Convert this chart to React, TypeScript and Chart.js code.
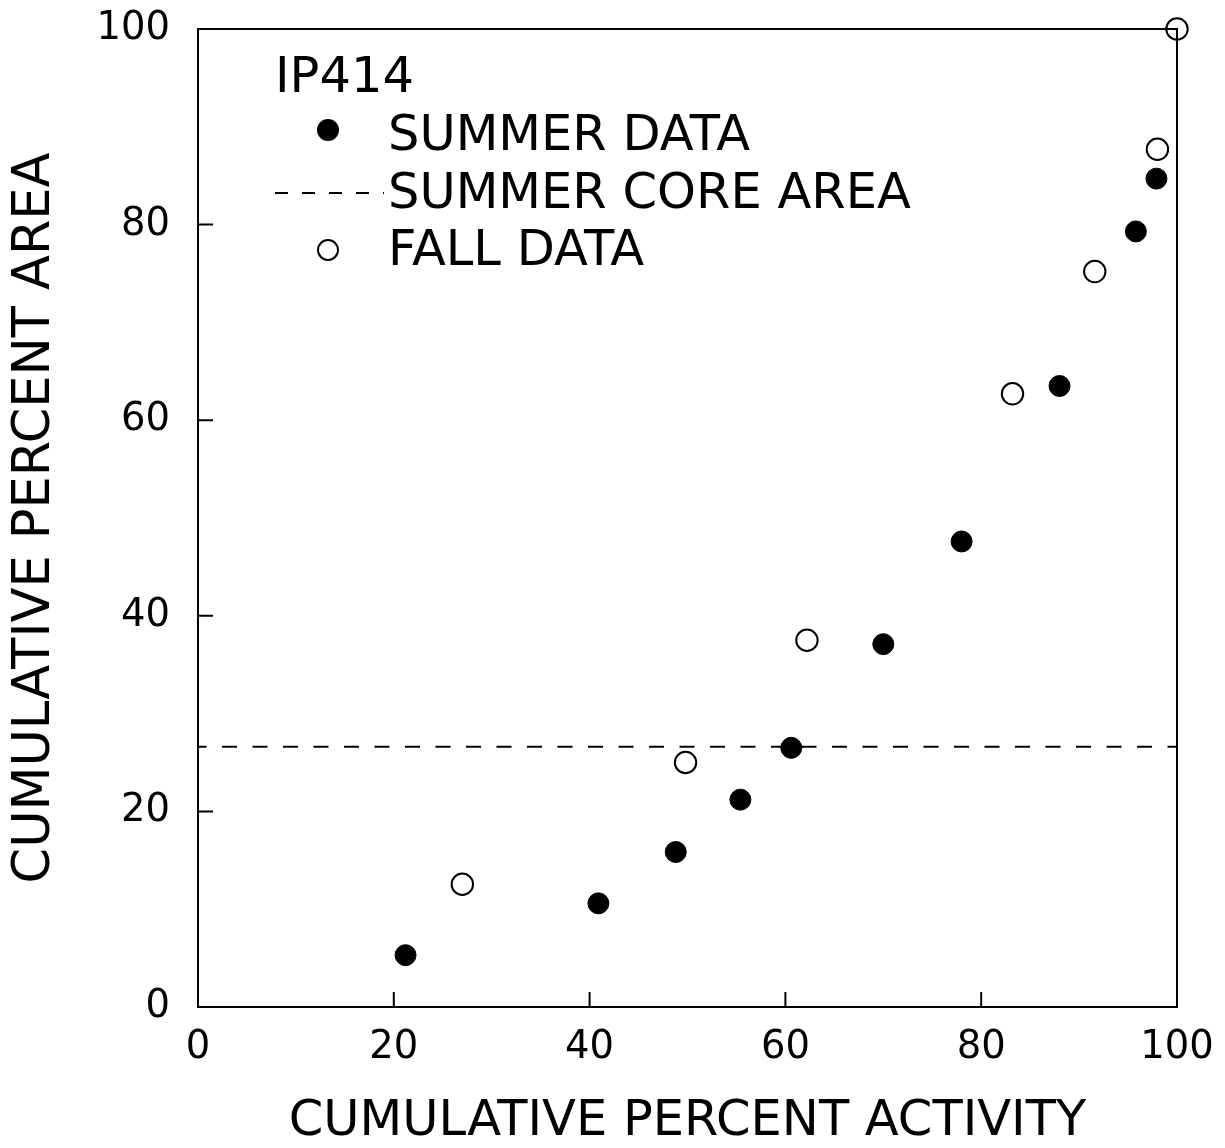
import React, { useEffect, useRef } from "react";
import { Chart, registerables } from "chart.js";

Chart.register(...registerables);

// ---- data ----
const summerX = [21.2, 40.9, 48.8, 55.4, 60.6, 70.0, 78.0, 88.0, 95.8, 97.9];
const summerY = [5.3, 10.6, 15.85, 21.2, 26.5, 37.1, 47.6, 63.5, 79.3, 84.7];
const fallX = [27.0, 49.8, 62.2, 83.2, 91.6, 98.0, 100];
const fallY = [12.55, 25.0, 37.5, 62.7, 75.2, 87.7, 100];
const coreX = [0, 100];
const coreY = [26.6, 26.6];
const xTicks = [0, 20, 40, 60, 80, 100];
const yTicks = [0, 20, 40, 60, 80, 100];
const legendTitle = "IP414";
const seriesLabels = ["SUMMER DATA", "SUMMER CORE AREA", "FALL DATA"];
const xTitle = "CUMULATIVE PERCENT ACTIVITY";
const yTitle = "CUMULATIVE PERCENT AREA";

const FONT = "'DejaVu Sans', 'Liberation Sans', sans-serif";
const INK = "#000000";

const zeroPad = (s: any) => {
  s.paddingTop = 0;
  s.paddingBottom = 0;
  s.paddingLeft = 0;
  s.paddingRight = 0;
};

const framePlugin = {
  id: "frameTicks",
  beforeDatasetsDraw(chart: any) {
    const { ctx, chartArea } = chart;
    const { left, right, top, bottom } = chartArea;
    const xs = chart.scales.x;
    const ys = chart.scales.y;
    ctx.save();
    ctx.strokeStyle = INK;
    ctx.lineWidth = 2;
    ctx.beginPath();
    ctx.rect(left, top, right - left, bottom - top);
    ctx.stroke();
    ctx.beginPath();
    xTicks.forEach((v) => {
      const px = xs.getPixelForValue(v);
      ctx.moveTo(px, bottom);
      ctx.lineTo(px, bottom - 15);
    });
    yTicks.forEach((v) => {
      const py = ys.getPixelForValue(v);
      ctx.moveTo(left, py);
      ctx.lineTo(left + 15, py);
    });
    ctx.stroke();
    ctx.restore();
  },
};

const legendPlugin = {
  id: "innerLegend",
  afterDatasetsDraw(chart: any) {
    const { ctx, chartArea } = chart;
    const L = chartArea.left;
    const T = chartArea.top;
    const ds = chart.data.datasets;
    ctx.save();
    ctx.fillStyle = INK;
    ctx.font = `49.5px ${FONT}`;
    ctx.textAlign = "left";
    ctx.textBaseline = "alphabetic";
    ctx.fillText(legendTitle, L + 77, T + 63);

    // summer marker
    ctx.beginPath();
    ctx.arc(L + 130, T + 101, 11, 0, Math.PI * 2);
    ctx.fillStyle = ds[0].backgroundColor;
    ctx.fill();
    ctx.fillStyle = INK;
    ctx.fillText(seriesLabels[0], L + 190, T + 121);

    // core line
    ctx.beginPath();
    ctx.setLineDash([13, 14]);
    ctx.lineWidth = ds[1].borderWidth;
    ctx.strokeStyle = ds[1].borderColor;
    ctx.moveTo(L + 77, T + 164);
    ctx.lineTo(L + 186, T + 164);
    ctx.stroke();
    ctx.setLineDash([]);
    ctx.fillText(seriesLabels[1], L + 190, T + 179);

    // fall marker
    ctx.beginPath();
    ctx.arc(L + 130, T + 221, 10, 0, Math.PI * 2);
    ctx.lineWidth = 2;
    ctx.strokeStyle = ds[2].borderColor;
    ctx.stroke();
    ctx.fillText(seriesLabels[2], L + 190, T + 236);
    ctx.restore();
  },
};

export default function App() {
  const ref = useRef<HTMLCanvasElement | null>(null);

  useEffect(() => {
    if (!ref.current) return;
    const chart = new Chart(ref.current, {
      type: "scatter",
      data: {
        datasets: [
          {
            label: seriesLabels[0],
            data: summerX.map((x, i) => ({ x, y: summerY[i] })),
            backgroundColor: INK,
            borderColor: INK,
            borderWidth: 1,
            pointRadius: 10.5,
            pointHoverRadius: 10.5,
            clip: false,
          },
          {
            label: seriesLabels[1],
            data: coreX.map((x, i) => ({ x, y: coreY[i] })),
            showLine: true,
            borderColor: INK,
            backgroundColor: INK,
            borderWidth: 2,
            borderDash: [15, 15.5],
            borderDashOffset: 6.5,
            pointRadius: 0,
            pointHoverRadius: 0,
            fill: false,
          },
          {
            label: seriesLabels[2],
            data: fallX.map((x, i) => ({ x, y: fallY[i] })),
            backgroundColor: "rgba(0,0,0,0)",
            borderColor: INK,
            borderWidth: 2,
            pointRadius: 10.7,
            pointHoverRadius: 10.7,
            clip: false,
          },
        ],
      },
      options: {
        animation: false,
        responsive: false,
        maintainAspectRatio: false,
        events: [],
        layout: { padding: { left: 0, top: 29, right: 48, bottom: 0 } },
        plugins: {
          legend: { display: false },
          tooltip: { enabled: false },
        },
        scales: {
          x: {
            type: "linear",
            min: 0,
            max: 100,
            afterBuildTicks: (s: any) => {
              s.ticks = xTicks.map((v) => ({ value: v }));
            },
            afterFit: (s: any) => {
              s.height = 141;
              zeroPad(s);
            },
            grid: { display: false, drawOnChartArea: false, drawTicks: false },
            border: { display: false },
            ticks: {
              color: INK,
              padding: 18,
              maxRotation: 0,
              autoSkip: false,
              font: { family: FONT, size: 38.5, lineHeight: 1.2 },
            },
            title: {
              display: true,
              text: xTitle,
              color: INK,
              font: { family: FONT, size: 49.5, lineHeight: 1 },
              padding: { top: 0, bottom: 1.5 },
            },
          },
          y: {
            type: "linear",
            min: 0,
            max: 100,
            afterBuildTicks: (s: any) => {
              s.ticks = yTicks.map((v) => ({ value: v }));
            },
            afterFit: (s: any) => {
              s.width = 198;
              zeroPad(s);
            },
            grid: { display: false, drawOnChartArea: false, drawTicks: false },
            border: { display: false },
            ticks: {
              color: INK,
              padding: 28,
              autoSkip: false,
              font: { family: FONT, size: 38.5, lineHeight: 1.2 },
            },
            title: {
              display: true,
              text: yTitle,
              color: INK,
              font: { family: FONT, size: 51, lineHeight: 1 },
              padding: { top: 10, bottom: 0 },
            },
          },
        },
      },
      plugins: [framePlugin, legendPlugin],
    });
    return () => chart.destroy();
  }, []);

  return (
    <div style={{ position: "absolute", left: 0, top: 0, width: 1225, height: 1148, background: "#fff" }}>
      <canvas ref={ref} width={1225} height={1148} style={{ display: "block" }} />
    </div>
  );
}
